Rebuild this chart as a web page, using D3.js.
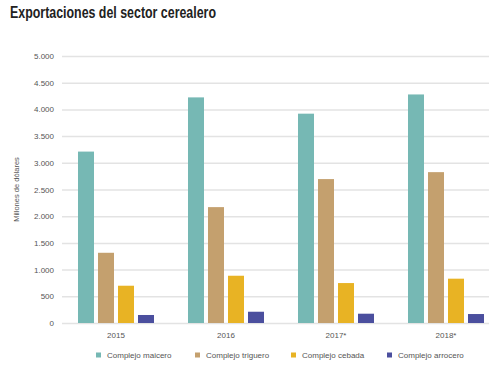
<!DOCTYPE html>
<html><head><meta charset="utf-8">
<script src="https://cdn.jsdelivr.net/npm/d3@7"></script>
<style>
body{margin:0;background:#fff;}
svg{display:block;}
text{font-family:"Liberation Sans",Arial,sans-serif;}
</style></head>
<body><svg id="c" width="489" height="365"></svg>
<script>
const years = ["2015","2016","2017*","2018*"];
const seriesNames = ["Complejo maicero","Complejo triguero","Complejo cebada","Complejo arrocero"];
const maicero = [3210, 4225, 3920, 4280];
const triguero = [1315, 2170, 2695, 2825];
const cebada = [698, 885, 748, 830];
const arrocero = [150, 211, 174, 168];
const yTicks = [0,500,1000,1500,2000,2500,3000,3500,4000,4500,5000];
const colors = ["#76b8b4","#c4a06e","#e8b324","#4b4f9e"];

(function(){
const values = [maicero, triguero, cebada, arrocero];
const svg = d3.select("#c");
const mL = 62, mR = 489, mT = 56, mB = 323;

const y = d3.scaleLinear().domain([0,5000]).range([mB, mT]);
const x0 = d3.scaleBand().domain(years).range([61, 501]).paddingInner(0.309).paddingOuter(0.1545);
const x1 = d3.scaleBand().domain(seriesNames).range([0, x0.bandwidth()]).paddingInner(0.2);

svg.append("text").attr("x",10).attr("y",18).text("Exportaciones del sector cerealero")
  .attr("textLength",206).attr("lengthAdjust","spacingAndGlyphs")
  .style("font-family","'Liberation Sans',Arial,sans-serif")
  .style("font-weight","bold").style("font-size","16px").attr("fill","#222");

const yAxis = d3.axisLeft(y).tickValues(yTicks).tickFormat(d => d>=1000 ? d3.format(",")(d).replace(",",".") : String(d))
  .tickSizeInner(-(mR-mL)).tickSizeOuter(0).tickPadding(8);
const gy = svg.append("g").attr("transform",`translate(${mL},0)`).call(yAxis);
gy.select(".domain").remove();
gy.selectAll(".tick line").attr("stroke","#e3e3e3").attr("stroke-width",1.5);
gy.selectAll(".tick text").attr("fill","#555").style("font-size","8px");

svg.append("text").attr("transform",`translate(19,${(mT+mB)/2}) rotate(-90)`)
  .attr("text-anchor","middle").attr("fill","#555").style("font-size","7.5px").text("Millones de dólares");

const groups = svg.append("g").selectAll("g").data(years).join("g")
  .attr("transform", d => `translate(${x0(d)},0)`);
groups.selectAll("rect").data((d,i) => seriesNames.map((s,j) => ({s, v: values[j][i], c: colors[j]})))
  .join("rect")
  .attr("x", d => x1(d.s)).attr("width", x1.bandwidth())
  .attr("y", d => y(d.v)).attr("height", d => mB - y(d.v))
  .attr("fill", d => d.c);

const xAxis = d3.axisBottom(x0).tickSize(0).tickPadding(9);
const gx = svg.append("g").attr("transform",`translate(0,${mB})`).call(xAxis);
gx.select(".domain").remove();
gx.selectAll(".tick text").attr("fill","#555").style("font-size","8px");

const legX = [96, 195, 291, 387];
const lg = svg.append("g").selectAll("g").data(seriesNames).join("g")
  .attr("transform",(d,i)=>`translate(${legX[i]},355)`);
lg.append("rect").attr("x",0).attr("y",-2.5).attr("width",5).attr("height",5).attr("fill",(d,i)=>colors[i]);
lg.append("text").attr("x",11).attr("y",3).attr("fill","#555").style("font-size","8px").text(d=>d);
})();
</script></body></html>
